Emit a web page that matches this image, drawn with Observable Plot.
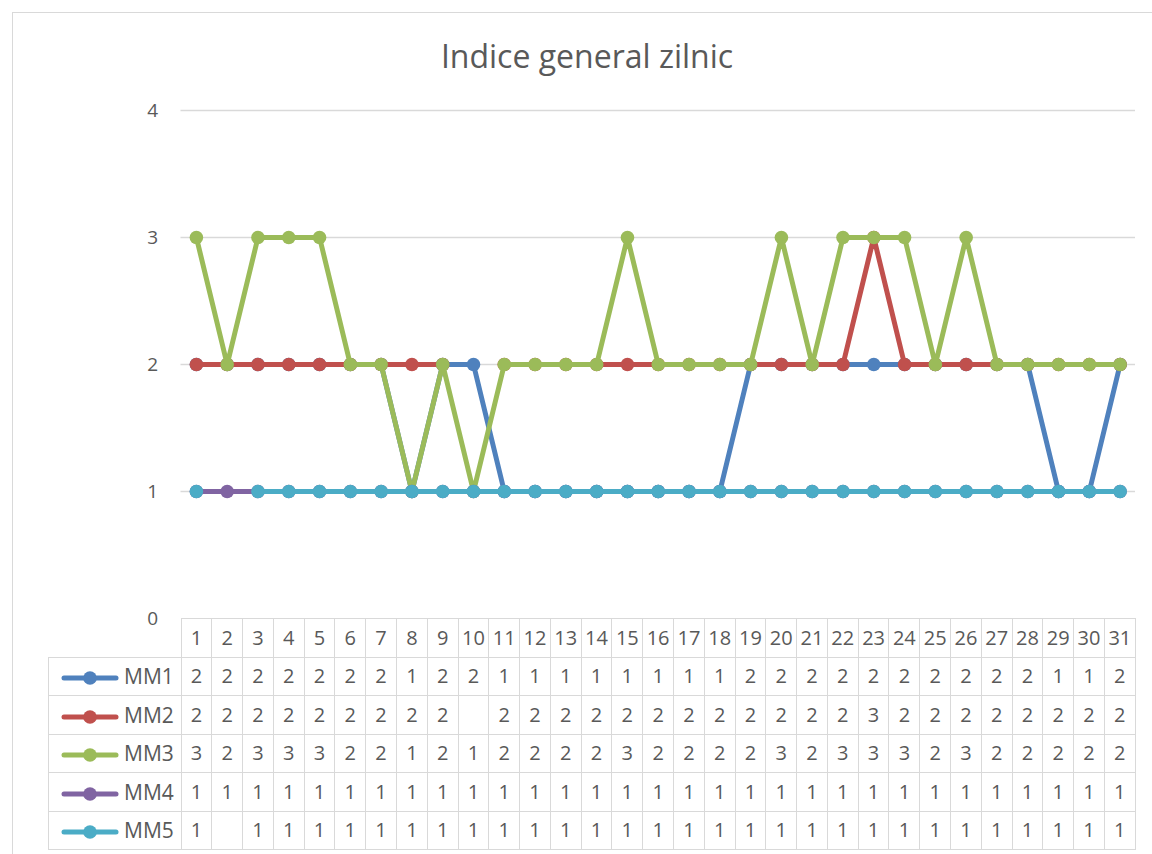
<!DOCTYPE html>
<html>
<head>
<meta charset="utf-8">
<script src="https://cdn.jsdelivr.net/npm/d3@7"></script>
<script src="https://cdn.jsdelivr.net/npm/@observablehq/plot@0.6"></script>
<style>
  html, body { margin:0; padding:0; background:#fff; }
  #page { position:relative; width:1152px; height:854px; overflow:hidden; font-family:"Open Sans", sans-serif; color:#595959; }
  #area { position:absolute; left:12px; top:12px; width:1160px; height:900px; border:1px solid #d9d9d9; box-sizing:border-box; }
  #title { position:absolute; left:12px; width:1150px; top:35px; text-align:center; font-size:32px; line-height:42px; color:#595959; }
  #chart { position:absolute; left:0; top:0; }
  #chart g[aria-label="y-axis tick label"], #chart g[aria-label="y-axis tick label"] text { font-size:19px !important; }
  #tbl { position:absolute; left:48px; top:618px; border-collapse:collapse; table-layout:fixed; font-size:20px; color:#595959; }
  #tbl td { border:1px solid #d9d9d9; height:38.5px; padding:0; text-align:center; box-sizing:border-box; line-height:20px; }
  #tbl td.lab { text-align:left; padding-left:0; white-space:nowrap; font-size:21px; }
  #tbl td.blank { border:none; border-right:1px solid #d9d9d9; border-bottom:1px solid #d9d9d9; }
  #tbl td.lab svg { vertical-align:middle; margin-right:3px; }
</style>
</head>
<body>
<div id="page">
  <div id="area"></div>
  <div id="title">Indice general zilnic</div>
  <div id="chart"></div>
  <table id="tbl"></table>
</div>
<script>
const days = [1,2,3,4,5,6,7,8,9,10,11,12,13,14,15,16,17,18,19,20,21,22,23,24,25,26,27,28,29,30,31];
const seriesNames = ["MM1","MM2","MM3","MM4","MM5"];
const mm1 = [2,2,2,2,2,2,2,1,2,2,1,1,1,1,1,1,1,1,2,2,2,2,2,2,2,2,2,2,1,1,2];
const mm2 = [2,2,2,2,2,2,2,2,2,null,2,2,2,2,2,2,2,2,2,2,2,2,3,2,2,2,2,2,2,2,2];
const mm3 = [3,2,3,3,3,2,2,1,2,1,2,2,2,2,3,2,2,2,2,3,2,3,3,3,2,3,2,2,2,2,2];
const mm4 = [1,1,1,1,1,1,1,1,1,1,1,1,1,1,1,1,1,1,1,1,1,1,1,1,1,1,1,1,1,1,1];
const mm5 = [1,null,1,1,1,1,1,1,1,1,1,1,1,1,1,1,1,1,1,1,1,1,1,1,1,1,1,1,1,1,1];
const colors = ["#4F81BD","#C0504D","#9BBB59","#8064A2","#4BACC6"];
const yTicks = [0,1,2,3,4];

const seriesValues = [mm1, mm2, mm3, mm4, mm5];
const seriesMarks = [];
seriesValues.forEach((vals, i) => {
  const data = days.map((d, j) => ({day: d, value: vals[j]}));
  seriesMarks.push(Plot.line(data, {x: "day", y: "value", stroke: colors[i], strokeWidth: 5, strokeLinecap: "round", strokeLinejoin: "round"}));
  seriesMarks.push(Plot.dot(data.filter(d => d.value != null), {x: "day", y: "value", fill: colors[i], r: 6.8, stroke: "none"}));
});

const mLeft = 180.5, mRight = 17;
const plot = Plot.plot({
  width: 1152,
  height: 640,
  marginLeft: mLeft,
  marginRight: mRight,
  marginTop: 110,
  marginBottom: 22,
  style: {background: "transparent", color: "#595959", fontFamily: "Open Sans, sans-serif", fontSize: "19px"},
  x: {type: "linear", domain: [days[0] - 0.5, days[days.length - 1] + 0.5], axis: null},
  y: {domain: [0, 4], label: null},
  marks: [
    Plot.gridY(yTicks.slice(1), {stroke: "#d9d9d9", strokeOpacity: 1, strokeWidth: 1.3}),
    Plot.axisY(yTicks, {tickSize: 0, tickPadding: 23, fontSize: 19, label: null, tickFormat: d => String(d)}),
    ...seriesMarks
  ]
});
document.getElementById("chart").appendChild(plot);

// data table below the chart, columns aligned with the x scale
const colW = (1152 - mRight - mLeft) / days.length;
const tbl = document.getElementById("tbl");
const cg = document.createElement("colgroup");
const c0 = document.createElement("col"); c0.style.width = (mLeft - 48) + "px"; cg.appendChild(c0);
days.forEach(() => { const c = document.createElement("col"); c.style.width = colW + "px"; cg.appendChild(c); });
tbl.appendChild(cg);
tbl.style.width = (mLeft - 48 + colW * days.length) + "px";
const hr = document.createElement("tr");
const h0 = document.createElement("td"); h0.className = "blank"; hr.appendChild(h0);
days.forEach(d => { const td = document.createElement("td"); td.textContent = d; hr.appendChild(td); });
tbl.appendChild(hr);
seriesNames.forEach((name, i) => {
  const tr = document.createElement("tr");
  const lab = document.createElement("td"); lab.className = "lab";
  lab.innerHTML = `<svg width="72" height="16"><line x1="15" y1="8" x2="67" y2="8" stroke="${colors[i]}" stroke-width="5" stroke-linecap="round"/><circle cx="41" cy="8" r="6.8" fill="${colors[i]}"/></svg>${name}`;
  tr.appendChild(lab);
  seriesValues[i].forEach(v => { const td = document.createElement("td"); td.textContent = v == null ? "" : v; tr.appendChild(td); });
  tbl.appendChild(tr);
});
</script>
</body>
</html>
